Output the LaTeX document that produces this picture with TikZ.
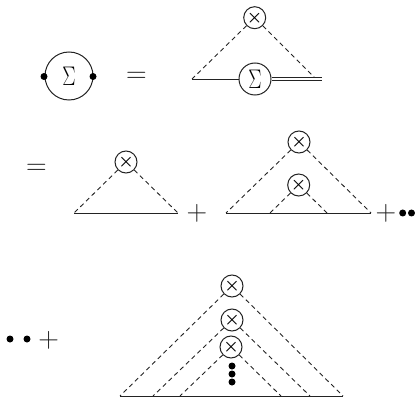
\documentclass[tikz,border=0pt]{standalone}
\usepackage{amsmath}
\usepackage{amssymb}
\usepackage{xcolor}
\usepackage{tikz}
\definecolor{inkgray}{RGB}{35,35,35}
\newcommand{\tallsigma}{\scalebox{0.95}[1.3]{$\Sigma$}}
\tikzset{
    vertex/.style={draw=inkgray,circle,line width=1pt,fill=white,minimum size=22pt,inner sep=0pt,font=\LARGE},
    selfenergy/.style={vertex,minimum size=32pt,font=\huge},
    blob/.style={vertex,minimum size=48pt,font=\huge,fill=none},
    bead/.style={circle,fill=black,minimum size=7pt,inner sep=0pt},
    sign/.style={inner sep=0pt,text=inkgray,scale=1.15,font=\Huge},
    scatter/.style={dashed,inkgray,line width=0.9pt,dash pattern=on 4.5pt off 3.5pt},
    prop/.style={inkgray,line width=0.9pt}
}
\begin{document}
\begin{tikzpicture}[x=1pt,y=-1pt]
    \useasboundingbox (0,0) rectangle (415,398);

    % First row
    \node[blob] (blob) at (69,76) {\tallsigma};
    \node[bead] (beadl) at (44,76.5) {};
    \node[bead] (beadr) at (93,76.5) {};
    \node[sign] (eqa) at (136.5,77) {$=$};
    \node[vertex] (xa) at (254.7,17.7) {$\boldsymbol{\times}$};
    \node[selfenergy] (sigma) at (255,79) {\tallsigma};
    \coordinate (ala) at (192,79);
    \coordinate (ara) at (314.5,77.5);
    \coordinate (aend) at (322,79);
    \draw[prop] (ala) -- (sigma);
    \draw[inkgray,line width=3.6pt] (sigma) -- (aend);
    \draw[white,line width=1.6pt] (sigma) -- (aend);
    \draw[scatter] (xa) -- (ala);
    \draw[scatter] (xa) -- (ara);

    % Second row
    \node[sign] (eqb) at (36.5,169) {$=$};
    \node[vertex] (xb) at (126,162) {$\boldsymbol{\times}$};
    \coordinate (bl) at (74,213);
    \coordinate (br) at (178,213);
    \draw[prop] (bl) -- (br);
    \draw[scatter] (xb) -- (bl);
    \draw[scatter] (xb) -- (br);
    \node[sign] (plusa) at (197,213.5) {$+$};
    \node[vertex] (xc) at (299,142) {$\boldsymbol{\times}$};
    \node[vertex] (xd) at (298.7,185) {$\boldsymbol{\times}$};
    \coordinate (cl) at (226,213);
    \coordinate (cr) at (371,213);
    \coordinate (dl) at (270,213);
    \coordinate (dr) at (327,213);
    \draw[prop] (cl) -- (cr);
    \foreach \top/\end in {xc/cl, xc/cr, xd/dl, xd/dr} {
        \draw[scatter] (\top) -- (\end);
    }
    \node[sign] (plusb) at (386,213.5) {$+$};
    \node[bead] (beada) at (402.7,213) {};
    \node[bead] (beadb) at (411.5,213) {};

    % Third row
    \node[bead] (beadc) at (10,339) {};
    \node[bead] (beadd) at (27,339) {};
    \node[sign] (plusc) at (48.7,340) {$+$};
    \node[vertex] (xe) at (232,286) {$\boldsymbol{\times}$};
    \node[vertex] (xf) at (232,320) {$\boldsymbol{\times}$};
    \node[vertex] (xg) at (231,347) {$\boldsymbol{\times}$};
    \foreach \name/\y in {beade/366, beadf/374, beadg/382} {
        \node[bead] (\name) at (232,\y) {};
    }
    \coordinate (el) at (120,396);
    \coordinate (er) at (343,396);
    \coordinate (fl) at (153,396);
    \coordinate (fr) at (310,396);
    \coordinate (gl) at (180,396);
    \coordinate (gr) at (281,396);
    \draw[prop] (el) -- (er);
    \foreach \top/\end in {xe/el, xe/er, xf/fl, xf/fr, xg/gl, xg/gr} {
        \draw[scatter] (\top) -- (\end);
    }
\end{tikzpicture}
\end{document}
